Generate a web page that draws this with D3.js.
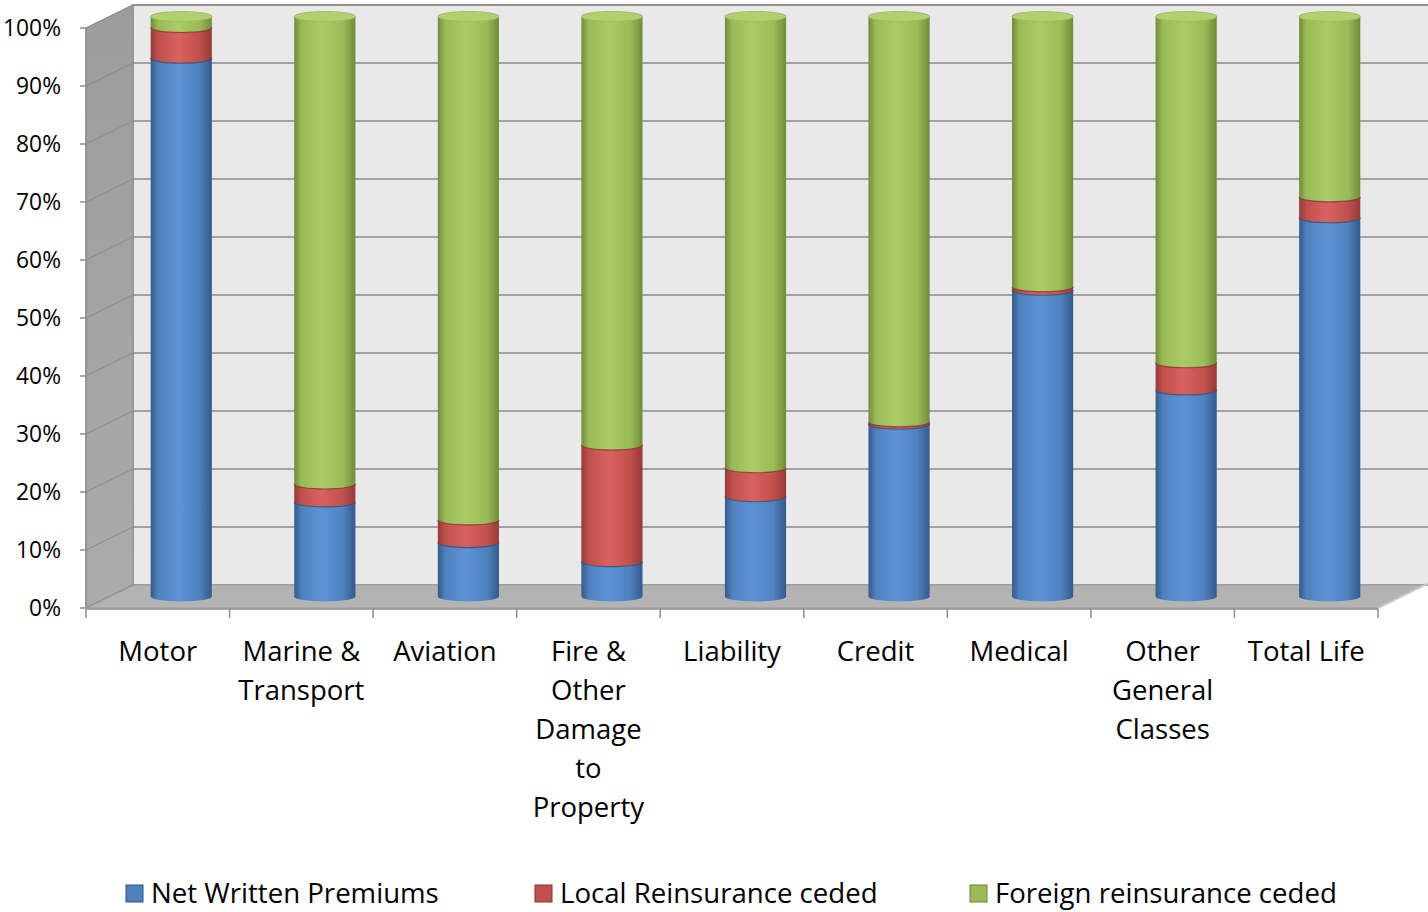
<!DOCTYPE html>
<html>
<head>
<meta charset="utf-8">
<script src="https://cdn.jsdelivr.net/npm/d3@7"></script>
<style>
  html, body { margin: 0; padding: 0; background: #fff; }
  svg { display: block; font-family: "Open Sans", Lato, sans-serif; }
</style>
</head>
<body>
<svg id="chart" width="1428" height="912"></svg>
<script>
// Premium split per class of business (percent of gross written premiums)
const categories = ["Motor", "Marine & Transport", "Aviation", "Fire & Other Damage to Property",
  "Liability", "Credit", "Medical", "Other General Classes", "Total Life"];
const categoryLines = [["Motor"], ["Marine &", "Transport"], ["Aviation"],
  ["Fire &", "Other", "Damage", "to", "Property"], ["Liability"], ["Credit"], ["Medical"],
  ["Other", "General", "Classes"], ["Total Life"]];
const netWritten   = [92.8, 16.3, 9.3, 6.0, 17.2, 29.7, 52.8, 35.6, 65.3];
const localReins   = [5.3, 3.1, 3.9, 20.1, 5.0, 0.4, 0.6, 4.7, 3.6];
const foreignReins = [1.9, 80.6, 86.8, 73.9, 77.8, 69.9, 46.6, 59.7, 31.1];
const seriesNames  = ["Net Written Premiums", "Local Reinsurance ceded", "Foreign reinsurance ceded"];
const yTicks       = [0, 0.1, 0.2, 0.3, 0.4, 0.5, 0.6, 0.7, 0.8, 0.9, 1.0];

const svg = d3.select("#chart");
const defs = svg.append("defs");

// plot geometry (front plane + depth offset of the 3D box)
const y = d3.scaleLinear().domain([0, 1]).range([608, 28]);
const x = d3.scaleBand().domain(categories).range([86, 1378]);
const dx = 47, dy = -23;
const bw = x.bandwidth();
const rx = bw * 0.213, ry = 5;

const palette = [
  { base: "#4f81bd", dark: "#335a8c", light: "#5d93d6", cap: "#6a9ad6", edge: "#2f5180" },
  { base: "#c0504d", dark: "#963a38", light: "#d9625e", cap: "#dc6d69", edge: "#8a3330" },
  { base: "#9bbb59", dark: "#6f8c38", light: "#abcb66", cap: "#b2d06f", edge: "#66803a" }
];
palette.forEach((p, i) => {
  const g = defs.append("linearGradient").attr("id", "cyl" + i)
    .attr("x1", 0).attr("x2", 1).attr("y1", 0).attr("y2", 0);
  g.append("stop").attr("offset", 0).attr("stop-color", p.dark);
  g.append("stop").attr("offset", 0.12).attr("stop-color", p.base);
  g.append("stop").attr("offset", 0.45).attr("stop-color", p.light);
  g.append("stop").attr("offset", 0.8).attr("stop-color", p.base);
  g.append("stop").attr("offset", 1).attr("stop-color", p.dark);
});
const sideGrad = defs.append("linearGradient").attr("id", "sideWall")
  .attr("x1", 0).attr("x2", 0).attr("y1", 0).attr("y2", 1);
sideGrad.append("stop").attr("offset", 0).attr("stop-color", "#9c9c9c");
sideGrad.append("stop").attr("offset", 1).attr("stop-color", "#ababab");

// ---- walls and floor ----
const x0 = x.range()[0], x1 = x.range()[1];
const pts = a => a.map(p => p.join(",")).join(" ");

// back wall
svg.append("polygon")
  .attr("points", pts([[x0 + dx, y(1) + dy], [1440, y(1) + dy], [1440, y(0) + dy], [x0 + dx, y(0) + dy]]))
  .attr("fill", "#e9e9e9").attr("stroke", "#8c8c8c").attr("stroke-width", 1.5);

// side wall
svg.append("polygon")
  .attr("points", pts([[x0, y(1)], [x0 + dx, y(1) + dy], [x0 + dx, y(0) + dy], [x0, y(0)]]))
  .attr("fill", "url(#sideWall)").attr("stroke", "#8c8c8c").attr("stroke-width", 1);

// floor
svg.append("polygon")
  .attr("points", pts([[x0, y(0)], [x0 + dx, y(0) + dy], [x1 + dx + 10, y(0) + dy], [x1 + dx, y(0) + dy], [x1, y(0)]]))
  .attr("fill", "#b3b3b3").attr("stroke", "#9a9a9a").attr("stroke-width", 1);
svg.append("line")
  .attr("x1", x1).attr("y1", y(0)).attr("x2", x1 + dx + 6).attr("y2", y(0) + dy - 3)
  .attr("stroke", "#c9c9c9").attr("stroke-width", 2);

// gridlines on back and side walls
const grid = svg.append("g").attr("stroke", "#8a8a8a").attr("stroke-width", 1.5).attr("fill", "none");
yTicks.forEach(t => {
  if (t > 0) {
    grid.append("line").attr("x1", x0 + dx).attr("x2", 1440)
      .attr("y1", y(t) + dy).attr("y2", y(t) + dy);
  }
  grid.append("line").attr("x1", x0).attr("y1", y(t))
    .attr("x2", x0 + dx).attr("y2", y(t) + dy).attr("stroke", "#8f8f8f").attr("stroke-width", 1.2);
});

// ---- value axis ----
const yAxis = svg.append("g");
yAxis.append("line").attr("x1", x0).attr("x2", x0).attr("y1", y(1)).attr("y2", y(0))
  .attr("stroke", "#8c8c8c").attr("stroke-width", 1.5);
yTicks.forEach(t => {
  yAxis.append("line").attr("x1", x0 - 6).attr("x2", x0).attr("y1", y(t)).attr("y2", y(t))
    .attr("stroke", "#8c8c8c").attr("stroke-width", 1.5);
  yAxis.append("text").attr("x", 61).attr("y", y(t))
    .attr("dy", "0.36em").attr("text-anchor", "end")
    .attr("font-size", 22.8).attr("fill", "#000")
    .text(d3.format(".0%")(t));
});

// ---- category axis ----
const xAxis = svg.append("g");
xAxis.append("line").attr("x1", x0).attr("x2", x1).attr("y1", y(0) + 1).attr("y2", y(0) + 1)
  .attr("stroke", "#8c8c8c").attr("stroke-width", 1.5);
const bounds = categories.map(c => x(c)).concat([x1]);
bounds.forEach(b => {
  xAxis.append("line").attr("x1", b).attr("x2", b).attr("y1", y(0) + 1).attr("y2", y(0) + 10)
    .attr("stroke", "#8c8c8c").attr("stroke-width", 1.5);
});
categories.forEach((c, i) => {
  const t = xAxis.append("text").attr("text-anchor", "middle")
    .attr("font-size", 27.5).attr("fill", "#000");
  categoryLines[i].forEach((ln, j) => {
    t.append("tspan").attr("x", x(c) + bw / 2).attr("y", 661 + j * 39).text(ln);
  });
});

// ---- stacked cylinders ----
const rows = categories.map((c, i) => ({
  category: c, s0: netWritten[i], s1: localReins[i], s2: foreignReins[i]
}));
const stack = d3.stack().keys(["s0", "s1", "s2"]).offset(d3.stackOffsetExpand);
const layers = stack(rows);

const bars = svg.append("g");
rows.forEach((r, i) => {
  const cx = x(r.category) + bw / 2 + dx / 2;
  const oy = dy / 2;
  const g = bars.append("g");
  layers.forEach((layer, k) => {
    const [v0, v1] = layer[i];
    if (v1 - v0 <= 0) return;
    const yb = y(v0) + oy, yt = y(v1) + oy;
    const path = `M${cx - rx},${yt} L${cx - rx},${yb} A${rx},${ry} 0 0 0 ${cx + rx},${yb} ` +
      `L${cx + rx},${yt} A${rx},${ry} 0 0 0 ${cx - rx},${yt} Z`;
    g.append("path").attr("d", path).attr("fill", `url(#cyl${k})`);
    if (k > 0) {
      // seam where this band sits on the one below
      g.append("path")
        .attr("d", `M${cx - rx},${yb} A${rx},${ry} 0 0 0 ${cx + rx},${yb}`)
        .attr("fill", "none").attr("stroke", palette[k - 1].edge).attr("stroke-width", 1.2)
        .attr("opacity", 0.8);
    }
  });
  // cap on top of the stack
  const top = layers.length - 1;
  const yTop = y(layers[top][i][1]) + oy;
  g.append("ellipse").attr("cx", cx).attr("cy", yTop).attr("rx", rx).attr("ry", ry)
    .attr("fill", palette[top].cap).attr("stroke", palette[top].base).attr("stroke-width", 0.8);
});

// ---- legend ----
const legendX = [126, 535, 970];
const legend = svg.append("g");
seriesNames.forEach((n, k) => {
  legend.append("rect").attr("x", legendX[k]).attr("y", 885).attr("width", 17).attr("height", 17)
    .attr("fill", palette[k].base).attr("stroke", palette[k].edge).attr("stroke-width", 1);
  legend.append("text").attr("x", legendX[k] + 25).attr("y", 893.5).attr("dy", "0.36em")
    .attr("font-size", 27.6).attr("fill", "#000").text(n);
});
</script>
</body>
</html>
